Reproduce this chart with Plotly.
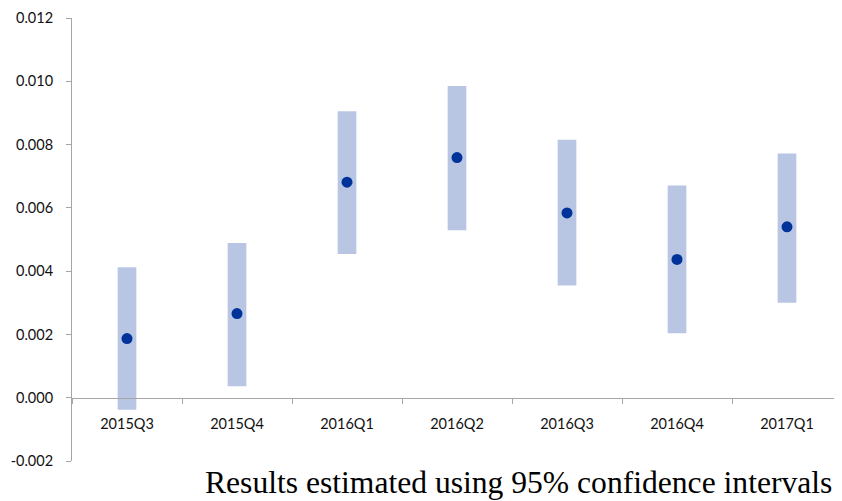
import plotly.graph_objects as go

quarters = ["2015Q3", "2015Q4", "2016Q1", "2016Q2", "2016Q3", "2016Q4", "2017Q1"]
estimate = [0.00187, 0.00266, 0.00681, 0.00759, 0.00584, 0.00437, 0.00540]
ci_low = [-0.00038, 0.00036, 0.00454, 0.00529, 0.00355, 0.00204, 0.00300]
ci_high = [0.00412, 0.00489, 0.00905, 0.00985, 0.00815, 0.00671, 0.00772]
y_ticks = [-0.002, 0.000, 0.002, 0.004, 0.006, 0.008, 0.010, 0.012]
caption = "Results estimated using 95% confidence intervals"

y_min, y_max = -0.002, 0.012
zero_pos = (0 - y_min) / (y_max - y_min)

# page has an 8px body margin; figure coordinates are page coordinates minus 8
fig_w, fig_h = 834, 493
plot_left, plot_right, plot_top, plot_bottom = 64, 834, 10, 453
plot_h = plot_bottom - plot_top
plot_w = plot_right - plot_left

fig = go.Figure()
fig.add_trace(go.Bar(
    x=quarters,
    y=[h - l for h, l in zip(ci_high, ci_low)],
    base=ci_low,
    width=0.17,
    marker=dict(color="#B8C6E4", line=dict(width=0)),
    hoverinfo="skip",
    showlegend=False,
))
fig.add_trace(go.Scatter(
    x=quarters,
    y=estimate,
    mode="markers",
    marker=dict(color="#003399", size=11),
    showlegend=False,
))

axis_font = dict(family="Lato, Carlito, Calibri, sans-serif", size=14.5, color="#111111")

fig.update_layout(
    width=fig_w, height=fig_h,
    margin=dict(l=plot_left, r=fig_w - plot_right, t=plot_top, b=fig_h - plot_bottom, autoexpand=False),
    paper_bgcolor="white", plot_bgcolor="white",
    xaxis=dict(
        type="category",
        range=[-0.5, 6.5],
        anchor="free", position=zero_pos,
        automargin=False,
        showline=True, linecolor="#a6a6a6", linewidth=1,
        ticks="outside", tickson="boundaries", ticklen=5, tickcolor="#a6a6a6",
        showgrid=False, zeroline=False,
        tickfont=axis_font,
        ticklabelstandoff=13,
    ),
    yaxis=dict(
        range=[y_min, y_max],
        automargin=False,
        tickvals=y_ticks,
        ticktext=[f"{v:.3f}" for v in y_ticks],
        showline=True, linecolor="#a6a6a6", linewidth=1,
        ticks="outside", ticklen=5, tickcolor="#a6a6a6",
        showgrid=False, zeroline=False,
        tickfont=axis_font,
        ticklabelstandoff=10,
    ),
    annotations=[dict(
        text=caption,
        xref="paper", yref="paper",
        x=(195 - plot_left) / plot_w, y=(plot_bottom - 475) / plot_h,
        xanchor="left", yanchor="middle",
        showarrow=False,
        font=dict(family="Liberation Serif, Times New Roman, serif", size=31.6, color="#000000"),
    )],
)

fig.write_html("out.html")
